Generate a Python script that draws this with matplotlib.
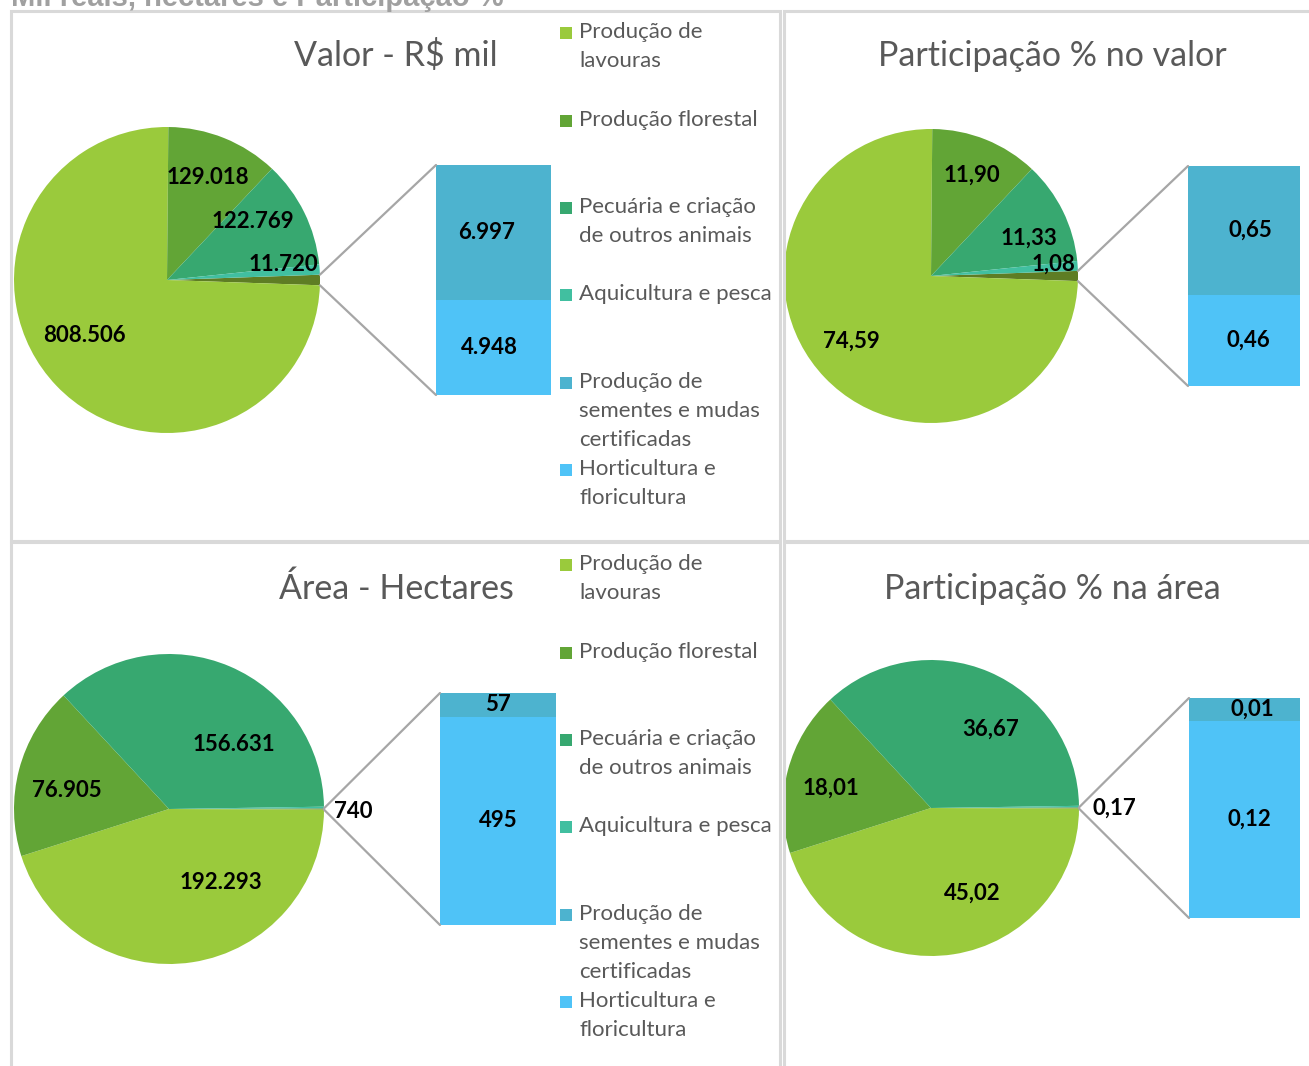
import matplotlib
matplotlib.use('Agg')
import matplotlib.pyplot as plt
import numpy as np
from matplotlib.patches import Rectangle, ConnectionPatch

plt.rcParams['font.family'] = ['Lato', 'DejaVu Sans']

W, H = 1309, 1066

# data
legend_labels = ['Produção de\nlavouras', 'Produção florestal',
                 'Pecuária e criação\nde outros animais', 'Aquicultura e pesca',
                 'Produção de\nsementes e mudas\ncertificadas',
                 'Horticultura e\nfloricultura']
titles = ['Valor - R$ mil', 'Participação % no valor',
          'Área - Hectares', 'Participação % na área']

# pie slices: lavouras, florestal, pecuaria, aquicultura
valor_pie = [808506, 129018, 122769, 11720]
part_valor_pie = [74.59, 11.90, 11.33, 1.08]
area_pie = [192293, 76905, 156631, 740]
part_area_pie = [45.02, 18.01, 36.67, 0.17]
# bar of pie: sementes, horticultura
valor_bar = [6997, 4948]
part_valor_bar = [0.65, 0.46]
area_bar = [57, 495]
part_area_bar = [0.0133, 0.1159]

pie_colors = ['#9ACA3C', '#62A536', '#37A870', '#41BFA0']
other_color = '#5E7D24'
bar_colors = ['#4DB3CF', '#4FC3F7']
legend_colors = pie_colors + bar_colors
gray_txt = '#595959'


def fmt_int(v):
    return f'{v:,}'.replace(',', '.')


def fmt_dec(v):
    return f'{v:.2f}'.replace('.', ',')


def px_axes(x0, y0, x1, y1):
    return fig.add_axes([x0 / W, 1 - y1 / H, (x1 - x0) / W, (y1 - y0) / H])


fig = plt.figure(figsize=(W / 100, H / 100), dpi=100)

# panel frames
for (x0, y0, x1, y1) in [(11, 11, 780, 541), (784, 11, 1320, 541),
                         (11, 542, 780, 1080), (784, 542, 1320, 1080)]:
    fig.add_artist(Rectangle((x0 / W, 1 - y1 / H), (x1 - x0) / W, (y1 - y0) / H,
                             transform=fig.transFigure, fill=False,
                             edgecolor='#D9D9D9', lw=2.2))

# heading, cut off at the top edge as in the original
fig.text(11 / W, 1 - 6 / H, 'Mil reais, hectares e Participação %',
         family=['Liberation Sans', 'DejaVu Sans'], fontweight='bold',
         fontsize=21, color='#A0A0A0', ha='left', va='baseline')

panels = [
    # pie vals, bar vals, formatter, pie (cx, cy, r), bar box, title pos, label polar pos, bar label dx
    (valor_pie, valor_bar, fmt_int, (167, 280, 153), (436, 165, 551, 395), (396, 56),
     [(214, 0.65), (68, 0.72), (34, 0.68), (7.8, 0.77)], -0.06),
    (part_valor_pie, part_valor_bar, fmt_dec, (931, 276, 147), (1188, 166, 1300, 386), (1052, 56),
     [(219.5, 0.70), (68, 0.74), (21, 0.71), (5.6, 0.84)], 0.06),
    (area_pie, area_bar, fmt_int, (169, 809, 155), (440, 693, 556, 925), (396, 589),
     [(-55, 0.58), (170, 0.67), (44.6, 0.59), (-0.7, 1.19)], 0.0),
    (part_area_pie, part_area_bar, fmt_dec, (931, 808, 148), (1189, 698, 1300, 918), (1052, 589),
     [(-64.5, 0.64), (169, 0.69), (53, 0.67), (0, 1.24)], 0.07),
]

for i, (pv, bv, fmt, (cx, cy, r), bbox, tpos, lpos, bdx) in enumerate(panels):
    other = sum(bv)
    total = sum(pv) + other
    half = 360 * other / total / 2
    ax = px_axes(cx - r, cy - r, cx + r, cy + r)
    ax.pie([other] + pv, colors=[other_color] + pie_colors, startangle=half,
           counterclock=False, radius=1, wedgeprops=dict(linewidth=0))
    ax.set_xlim(-1, 1)
    ax.set_ylim(-1, 1)
    ax.set_aspect('auto')
    ax.axis('off')
    for v, (ang, rf) in zip(pv, lpos):
        a = np.deg2rad(ang)
        ax.text(rf * np.cos(a), rf * np.sin(a), fmt(v), ha='center', va='center',
                fontsize=16, fontweight='bold', color='black', clip_on=False)

    bx = px_axes(*bbox)
    bx.bar(0, bv[1], width=1, color=bar_colors[1], linewidth=0)
    bx.bar(0, bv[0], width=1, bottom=bv[1], color=bar_colors[0], linewidth=0)
    bx.set_xlim(-0.5, 0.5)
    bx.set_ylim(0, other)
    bx.axis('off')
    bx.text(bdx, bv[1] + bv[0] / 2, fmt(bv[0]), ha='center', va='center',
            fontsize=16, fontweight='bold', color='black')
    bx.text(bdx * 0.6, bv[1] / 2, fmt(bv[1]), ha='center', va='center',
            fontsize=16, fontweight='bold', color='black')

    # connector lines from the "other" slice to the bar
    for sgn, corner in [(1, (0, 1)), (-1, (0, 0))]:
        a = np.deg2rad(sgn * half)
        con = ConnectionPatch(xyA=(np.cos(a), np.sin(a)), coordsA=ax.transData,
                              xyB=corner, coordsB=bx.transAxes,
                              color='#A6A6A6', lw=1.6)
        fig.add_artist(con)

    fig.text(tpos[0] / W, 1 - tpos[1] / H, titles[i], ha='center', va='center',
             fontsize=24.5, color=gray_txt)

# legends in the left panels
entry_y = [32, 120, 207, 294, 382, 469]
for off in [0, 532]:
    for lab, col, y in zip(legend_labels, legend_colors, entry_y):
        y0 = y + off
        fig.add_artist(Rectangle((560 / W, 1 - (y0 + 7) / H), 12 / W, 12 / H,
                                 transform=fig.transFigure, color=col, lw=0))
        for k, line in enumerate(lab.split('\n')):
            fig.text(579 / W, 1 - (y0 + 29 * k) / H, line, ha='left', va='center',
                     fontsize=16, color=gray_txt)

fig.savefig('out.png', dpi=100)
